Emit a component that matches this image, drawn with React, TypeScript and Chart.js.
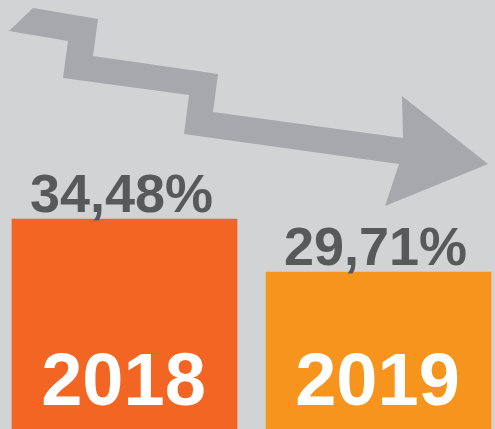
import React, { useEffect, useRef } from "react";
import { Chart, registerables } from "chart.js";

Chart.register(...registerables);

const categories = ["2018", "2019"];
const values = [34.48, 29.71];
const valueLabels = ["34,48%", "29,71%"];
const barColors = ["#f26522", "#f7941d"];

// decorative arrow polygon, as fractions of the canvas (x, y)
const arrowShape: [number, number][] = [
  [9, 31], [33, 8], [98, 19], [93, 56], [218, 74], [213, 112], [403, 138],
  [402, 96], [488, 164], [385, 206], [399, 164], [184, 134], [189, 95],
  [63, 78], [68, 41],
].map(([x, y]) => [x / 495, y / 429] as [number, number]);

const decorPlugin = {
  id: "decor",
  beforeDatasetsDraw(chart: any) {
    const { ctx } = chart;
    const w = chart.width, h = chart.height;
    ctx.save();
    ctx.fillStyle = "#a6a8ab";
    ctx.beginPath();
    arrowShape.forEach(([fx, fy], i) => {
      const x = fx * w, y = fy * h;
      if (i === 0) ctx.moveTo(x, y); else ctx.lineTo(x, y);
    });
    ctx.closePath();
    ctx.fill();
    ctx.restore();
  },
  afterDatasetsDraw(chart: any) {
    const { ctx, chartArea } = chart;
    const meta = chart.getDatasetMeta(0);
    ctx.save();
    ctx.textAlign = "center";
    ctx.textBaseline = "alphabetic";
    meta.data.forEach((bar: any, i: number) => {
      ctx.fillStyle = "#58595b";
      ctx.font = "bold 54px 'Liberation Sans', Arial, sans-serif";
      ctx.fillText(valueLabels[i], bar.x - 3, bar.y - 7);
      ctx.fillStyle = "#ffffff";
      ctx.font = "bold 74px 'Liberation Sans', Arial, sans-serif";
      ctx.fillText(categories[i], bar.x - 1, chartArea.bottom - 24);
    });
    ctx.restore();
  },
};

export default function App() {
  const ref = useRef<HTMLCanvasElement>(null);
  useEffect(() => {
    document.body.style.margin = "0";
    const chart = new Chart(ref.current!, {
      type: "bar",
      data: {
        datasets: [
          {
            data: values.map((v, i) => ({ x: i, y: v })),
            backgroundColor: barColors,
            borderWidth: 0,
            barThickness: 225,
          },
        ],
      },
      options: {
        animation: false,
        responsive: false,
        maintainAspectRatio: false,
        layout: { padding: 0 },
        plugins: { legend: { display: false }, tooltip: { enabled: false } },
        scales: {
          x: { type: "linear", display: false, min: -0.4902, max: 1.4587, offset: false },
          y: { display: false, min: 15.6, max: 54.2 },
        },
      },
      plugins: [decorPlugin],
    });
    return () => chart.destroy();
  }, []);
  return (
    <div style={{ position: "fixed", left: 0, top: 0, width: 495, height: 429, background: "#d1d3d4" }}>
      <canvas ref={ref} width={495} height={429} style={{ display: "block" }} />
    </div>
  );
}
